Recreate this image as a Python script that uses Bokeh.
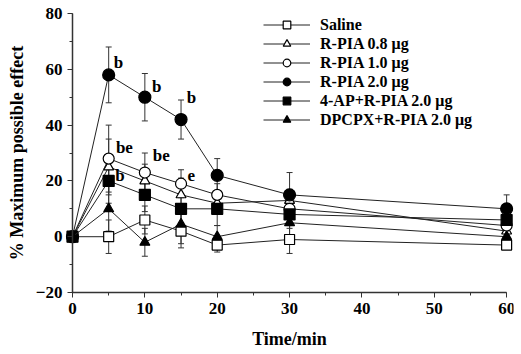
from bokeh.plotting import figure
from bokeh.models import (Range1d, ColumnDataSource, Whisker, TeeHead, Legend,
                          LegendItem, FixedTicker, LabelSet)
from bokeh.embed import file_html
from bokeh.resources import INLINE

# ---- data ----
times = [0, 5, 10, 15, 20, 30, 60]
series_names = ["Saline", "R-PIA 0.8 μg", "R-PIA 1.0 μg", "R-PIA 2.0 μg",
                "4-AP+R-PIA 2.0 μg", "DPCPX+R-PIA 2.0 μg"]
saline = [0, 0, 6, 2, -3, -1, -3]
rpia08 = [0, 25, 20, 15, 12, 13, 2]
rpia10 = [0, 28, 23, 19, 15, 10, 4]
rpia20 = [0, 58, 50, 42, 22, 15, 10]
ap_rpia = [0, 20, 15, 10, 10, 8, 6]
dpcpx_rpia = [0, 10, -2, 4.5, 0, 5, 0]

saline_err = [0, 6, 5, 6, 2.5, 5, 1.5]
rpia08_err = [0, 10, 6, 6, 4, 4, 2]
rpia10_err = [0, 12, 7, 5, 4, 5, 3]
rpia20_err = [0, 10, 8.5, 7, 6, 8, 5]
ap_err = [0, 8, 6, 5, 6, 5, 3]
dpcpx_err = [0, 8, 5, 7, 4, 6, 2]

note_text = ["b", "b", "b", "be", "be", "e", "b"]
note_x = [5.7, 11.0, 15.8, 6.0, 11.1, 15.9, 5.9]
note_y = [62.5, 54, 50, 32, 29, 22, 22]

x_ticks = [0, 10, 20, 30, 40, 50, 60]
y_ticks = [-20, 0, 20, 40, 60, 80]

FONT = "Liberation Serif"

# frame covers nearly the whole canvas so the axes (fixed at x=0 / y=-20)
# and their labels are not clipped, while markers at x=0 and x=60 stay whole
p = figure(width=521, height=354, output_backend="svg", toolbar_location=None,
           x_range=Range1d(-9.675, 60.95), y_range=Range1d(-41.5, 83.59),
           min_border_left=2, min_border_right=8, min_border_top=3,
           min_border_bottom=2, frame_width=511, frame_height=349)
p.background_fill_color = "white"
p.border_fill_color = "white"
p.outline_line_color = None
p.grid.visible = False

# axes
xa = p.xaxis[0]
ya = p.yaxis[0]
xa.bounds = (0, 60)
ya.bounds = (-20, 80)
ya.fixed_location = 0
xa.fixed_location = -20
xa.ticker = FixedTicker(ticks=x_ticks, minor_ticks=list(range(0, 61, 5)))
ya.ticker = FixedTicker(ticks=y_ticks, minor_ticks=list(range(-20, 81, 10)))
for ax in (xa, ya):
    ax.axis_line_color = "#333333"
    ax.axis_line_width = 1.5
    ax.major_tick_line_color = "#333333"
    ax.minor_tick_line_color = "#333333"
    ax.major_tick_out = 5
    ax.major_tick_in = 0
    ax.minor_tick_out = 3
    ax.minor_tick_in = 0
    ax.major_label_text_font = FONT
    ax.major_label_text_font_style = "bold"
    ax.major_label_text_font_size = "17px"
    ax.major_label_text_color = "black"
    ax.axis_label_text_font = FONT
    ax.axis_label_text_font_style = "bold"
    ax.axis_label_text_font_size = "18px"
    ax.axis_label_text_color = "black"
xa.axis_label = "Time/min"
xa.axis_label_standoff = 12
ya.axis_label = "% Maximum possible effect"
ya.axis_label_standoff = 6

values = [saline, rpia08, rpia10, rpia20, ap_rpia, dpcpx_rpia]
errs = [saline_err, rpia08_err, rpia10_err, rpia20_err, ap_err, dpcpx_err]
markers = ["square", "triangle", "circle", "circle", "square", "triangle"]
fills = ["white", "white", "white", "black", "black", "black"]
sizes = [10, 10, 11, 12, 11, 10]

items = []
for name, vals, er, mk, fc, sz in zip(series_names, values, errs, markers, fills, sizes):
    src = ColumnDataSource(dict(x=times, y=vals,
                                up=[v + e for v, e in zip(vals, er)],
                                lo=[v - e for v, e in zip(vals, er)]))
    w = Whisker(base="x", upper="up", lower="lo", source=src,
                line_color="#333333", line_width=1,
                upper_head=TeeHead(size=6, line_color="#333333", line_width=1),
                lower_head=TeeHead(size=6, line_color="#333333", line_width=1))
    p.add_layout(w)
    ln = p.line("x", "y", source=src, line_color="#222222", line_width=1)
    sc = p.scatter("x", "y", source=src, marker=mk, size=sz, fill_color=fc,
                   line_color="black", line_width=1.2)
    items.append(LegendItem(label=name, renderers=[ln, sc]))

notes = ColumnDataSource(dict(x=note_x, y=note_y, t=note_text))
p.add_layout(LabelSet(x="x", y="y", text="t", source=notes, text_font=FONT,
                      text_font_style="bold", text_font_size="17px",
                      text_color="black", text_baseline="middle",
                      text_align="left"))

legend = Legend(items=items, location=(261, 223), orientation="vertical")
legend.border_line_color = None
legend.background_fill_alpha = 0
legend.padding = 0
legend.margin = 0
legend.spacing = 0
legend.glyph_width = 47
legend.glyph_height = 19
legend.label_height = 19
legend.label_standoff = 10
legend.label_text_font = FONT
legend.label_text_font_style = "bold"
legend.label_text_font_size = "16px"
legend.label_text_line_height = 1.0
legend.label_text_color = "black"
p.add_layout(legend, "center")

open("out.html", "w").write(file_html(p, INLINE))
